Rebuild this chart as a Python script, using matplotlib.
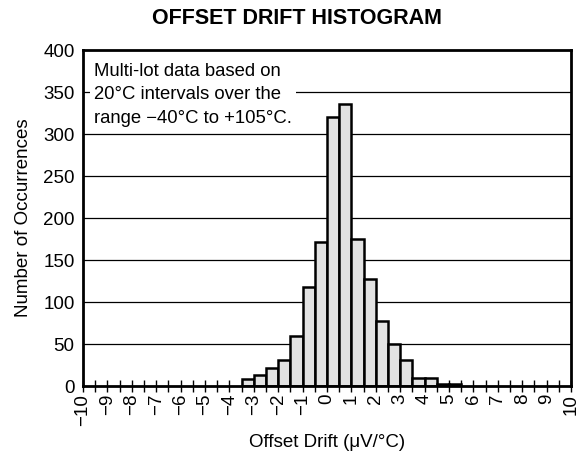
import matplotlib
matplotlib.use("Agg")
import matplotlib.pyplot as plt
import numpy as np

plt.rcParams['font.family'] = ['Liberation Sans', 'DejaVu Sans']

bin_left = [-3.5, -3.0, -2.5, -2.0, -1.5, -1.0, -0.5, 0.0, 0.5, 1.0,
            1.5, 2.0, 2.5, 3.0, 3.5, 4.0, 4.5, 5.0]
counts = [8, 13, 21, 31, 59, 118, 171, 320, 336, 175,
          127, 77, 50, 31, 10, 10, 3, 2]
bin_width = 0.5
xtick_vals = list(range(-10, 11))
ytick_vals = [0, 50, 100, 150, 200, 250, 300, 350, 400]

fig = plt.figure(figsize=(5.79, 4.55), dpi=100)
ax = fig.add_axes([0.1434, 0.1516, 0.8428, 0.7385])

ax.set_xlim(-10, 10)
ax.set_ylim(0, 400)

for y in ytick_vals[1:-1]:
    ax.axhline(y, color='black', lw=0.9, zorder=1)

ax.bar(bin_left, counts, width=bin_width, align='edge',
       facecolor='#e2e2e2', edgecolor='black', linewidth=1.8, zorder=3)

ax.set_xticks(xtick_vals)
ax.set_xticklabels([(f"\u2212{abs(v)}" if v < 0 else str(v)) for v in xtick_vals],
                   rotation=90, fontsize=13.5)
ax.set_xticks(np.arange(-9.5, 10, 1.0), minor=True)
ax.tick_params(axis='x', which='both', direction='inout', length=9, width=1.0,
               pad=1)
ax.set_yticks(ytick_vals)
ax.set_yticklabels([str(v) for v in ytick_vals], fontsize=13.5)
ax.tick_params(axis='y', length=0, pad=6)

for s in ax.spines.values():
    s.set_linewidth(2.0)
    s.set_zorder(5)

ax.text(-9.55, 385, "Multi-lot data based on\n20\u00b0C intervals over the\nrange \u221240\u00b0C to +105\u00b0C.",
        fontsize=13.3, va='top', ha='left', linespacing=1.5, zorder=4,
        bbox=dict(facecolor='white', edgecolor='none', pad=3))

ax.set_xlabel("Offset Drift (\u03bcV/\u00b0C)", fontsize=13.5, labelpad=6)
ax.set_ylabel("Number of Occurrences", fontsize=13.5, labelpad=8)
fig.text(297 / 579, 1 - 19 / 455, "OFFSET DRIFT HISTOGRAM", fontsize=15.5,
         fontweight='bold', ha='center', va='center')

fig.savefig("out.png", dpi=100)
